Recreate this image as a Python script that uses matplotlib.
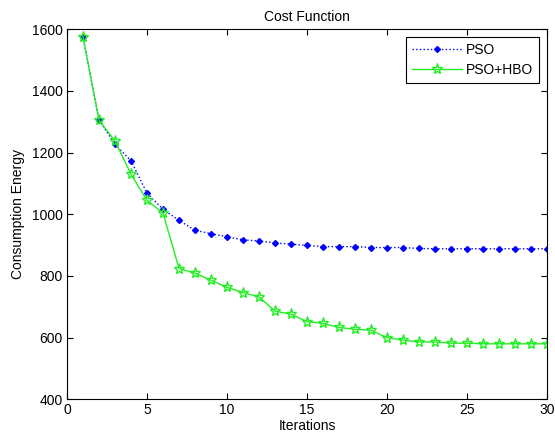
import numpy as np
import matplotlib as mpl
mpl.use('Agg')
import matplotlib.pyplot as plt

plt.rcParams.update({
    "font.family": ["Liberation Sans", "DejaVu Sans"],
    "font.size": 10,
})

# values
iters = np.arange(1, 31)
pso = [1575, 1305, 1227, 1173, 1068, 1016, 980, 948, 937, 927,
       917, 913, 907, 903, 899, 895, 895, 895, 892, 892,
       892, 889, 888, 888, 888, 888, 888, 888, 888, 888]
pso_hbo = [1575, 1305, 1237, 1130, 1045, 1004, 824, 809, 786, 763,
           746, 732, 686, 676, 652, 646, 633, 627, 624, 600,
           592, 586, 586, 582, 582, 580, 580, 580, 580, 580]

fig = plt.figure(figsize=(5.55, 4.41), dpi=100)
ax = fig.add_axes([0.1207, 0.0945, 0.8649, 0.8395])

ax.plot(iters, pso, ':', color='#0000ff', marker='D', markersize=3,
        linewidth=1, label='PSO')
ax.plot(iters, pso_hbo, '-', color='#22ee22', marker='*', markersize=8,
        markerfacecolor='none', markeredgecolor='#22ee22', linewidth=1,
        label='PSO+HBO')

ax.set_xlim(0, 30)
ax.set_ylim(400, 1600)
ax.set_xticks(range(0, 31, 5))
ax.set_yticks(range(400, 1601, 200))
ax.tick_params(direction='in', top=True, right=True, length=4, width=0.8,
               pad=3)
for s in ax.spines.values():
    s.set_linewidth(0.8)

ax.set_title("Cost Function", fontsize=10, pad=6)
ax.set_xlabel("Iterations", labelpad=1)
ax.set_ylabel("Consumption Energy", labelpad=5)

leg = ax.legend(loc='upper right', fancybox=False, framealpha=1,
                edgecolor='black', borderaxespad=0.6, handlelength=3.6,
                fontsize=10, borderpad=0.4, labelspacing=0.45,
                handletextpad=0.3)
leg.get_frame().set_linewidth(0.8)

plt.savefig("out.png", dpi=100)
plt.close()
